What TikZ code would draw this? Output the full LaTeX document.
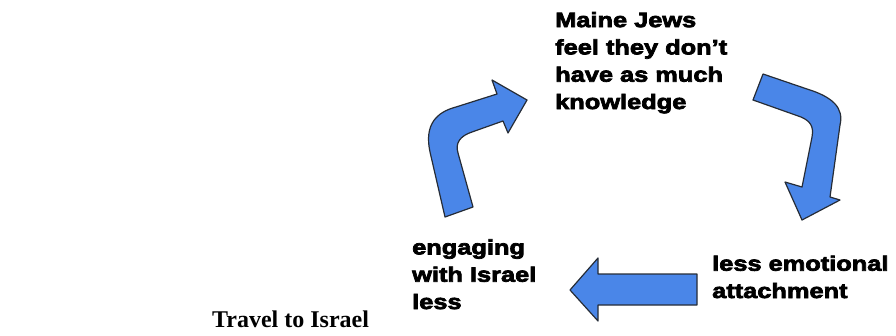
\documentclass[tikz,border=0pt]{standalone}
\usepackage{fontspec}
\setmainfont{Liberation Serif}
\newfontfamily\heavy[FakeStretch=1.22,FakeBold=3.5]{Liberation Sans Bold}
\definecolor{arrowblue}{HTML}{4A86E8}
\definecolor{arrowline}{HTML}{262C36}
\begin{document}
\begin{tikzpicture}[x=1pt,y=-1pt,
  blockarrow/.style={fill=arrowblue,draw=arrowline,line width=1.2pt,line join=round},
  cycletext/.style={anchor=base west,inner sep=0pt,align=left,font=\heavy\fontsize{20.8}{27.3}\selectfont},
  titletext/.style={anchor=base west,inner sep=0pt,font=\bfseries\fontsize{24}{28}\selectfont}]
\useasboundingbox (0,0) rectangle (896,335);
% text (anchor = baseline of the last line)
\node[cycletext] (know) at (555,109) {Maine Jews\\feel they don’t\\have as much\\knowledge};
\node[cycletext] (attach) at (712,298) {less emotional\\attachment};
\node[cycletext] (engage) at (412,309) {engaging\\with Israel\\less};
\node[titletext] (title) at (212,327) {Travel to Israel};
% up-right curved arrow (left)
\draw[blockarrow] (445,217) -- (430,152)
  .. controls (424,124) and (437,112) .. (456,107)
  -- (497,94) -- (492,80) -- (527,100) -- (508,133) -- (503,121)
  -- (472,132) .. controls (460,136) and (455,143) .. (458,153)
  -- (473,207) -- cycle;
% down curved arrow (right)
\draw[blockarrow] (763,74) -- (807,89)
  .. controls (833,97) and (844,108) .. (840,125)
  -- (830,197) -- (840,200) -- (802,220) -- (785,182) -- (802,187)
  -- (812,137) .. controls (814,126) and (810,121) .. (801,117)
  -- (753,100) -- cycle;
% left-pointing arrow (bottom)
\draw[blockarrow] (697,274) -- (598,274) -- (598,258) -- (570,290)
  -- (598,321) -- (598,305) -- (697,305) -- cycle;
\end{tikzpicture}
\end{document}
